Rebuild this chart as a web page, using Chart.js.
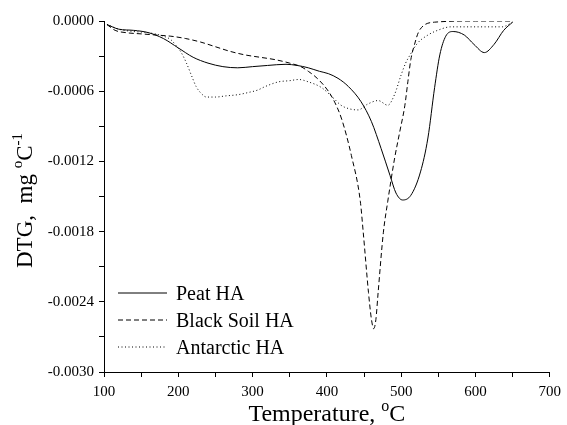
<!DOCTYPE html>
<html>
<head>
<meta charset="utf-8">
<script src="https://cdn.jsdelivr.net/npm/chart.js@4/dist/chart.umd.min.js"></script>
<style>
  html, body { margin: 0; padding: 0; background: #fff; }
  #wrap { width: 567px; height: 425px; }
</style>
</head>
<body>
<div id="wrap"><canvas id="dtgChart"></canvas></div>
<script>
/* ===================== DATA ===================== */
const peatT = [104, 120, 140, 160, 180, 200, 220, 240, 260, 280, 300, 320, 345, 360, 375, 390, 402, 415, 429, 446, 460, 473, 485, 493, 502, 513, 526, 536, 545, 552, 560, 570, 585, 598, 612, 625, 638, 650];
const peatV = [-0.00003, -0.00007, -0.00008, -0.00010, -0.00015, -0.00023, -0.00031, -0.00036, -0.00039, -0.00040, -0.00039, -0.00038, -0.00037, -0.00038, -0.00040, -0.00043, -0.00045, -0.00049, -0.00056, -0.00069, -0.00086, -0.00109, -0.00132, -0.00147, -0.00153, -0.00149, -0.00129, -0.00100, -0.00057, -0.00029, -0.00013, -0.00009, -0.00012, -0.00020, -0.00027, -0.00020, -0.00008, -0.00001];

const blackT = [104, 115, 130, 150, 170, 190, 210, 230, 250, 270, 290, 310, 330, 350, 365, 375, 387, 402, 411, 420, 433, 445, 449, 456, 460, 463, 466, 469, 476, 482, 491, 498, 505, 509, 513, 518, 523, 530, 545, 600, 650];
const blackV = [-0.00003, -0.00008, -0.00010, -0.00011, -0.00012, -0.00013, -0.00015, -0.00018, -0.00022, -0.00026, -0.00029, -0.00031, -0.00033, -0.00036, -0.00039, -0.00043, -0.00049, -0.00060, -0.00070, -0.00084, -0.00115, -0.00154, -0.00181, -0.00232, -0.00255, -0.00263, -0.00255, -0.00232, -0.00181, -0.00154, -0.00118, -0.00095, -0.00072, -0.00052, -0.00033, -0.00020, -0.00010, -0.00004, -0.00001, 0.00000, 0.00000];

const antT = [104, 120, 140, 160, 180, 190, 197, 204, 211, 218, 224, 231, 238, 250, 264, 280, 295, 307, 317, 335, 350, 362, 375, 393, 409, 419, 430, 442, 455, 469, 482, 491, 500, 506, 512, 522, 536, 549, 567, 590, 620, 636, 650];
const antV = [-0.00003, -0.00007, -0.00009, -0.00010, -0.00013, -0.00016, -0.00021, -0.00027, -0.00036, -0.00047, -0.00056, -0.00062, -0.00065, -0.00065, -0.00064, -0.00063, -0.00061, -0.00059, -0.00056, -0.00052, -0.00051, -0.00050, -0.00052, -0.00057, -0.00066, -0.00072, -0.00075, -0.00076, -0.00071, -0.00068, -0.00072, -0.00063, -0.00046, -0.00036, -0.00029, -0.00019, -0.00012, -0.00008, -0.00005, -0.00005, -0.00005, -0.00005, -0.00001];

const seriesLabels = ['Peat HA', 'Black Soil HA', 'Antarctic HA'];

const xTickValues = [100, 150, 200, 250, 300, 350, 400, 450, 500, 550, 600, 650, 700];
const xTickLabels = ['100', '', '200', '', '300', '', '400', '', '500', '', '600', '', '700'];
const yTickValues = [-0.0030, -0.0027, -0.0024, -0.0021, -0.0018, -0.0015, -0.0012, -0.0009, -0.0006, -0.0003, 0.0000];
const yTickLabels = ['-0.0030', '', '-0.0024', '', '-0.0018', '', '-0.0012', '', '-0.0006', '', '0.0000'];

const SERIF = '"Liberation Serif", "Times New Roman", serif';

function toPoints(xs, ys) {
  return xs.map((x, i) => ({ x: x, y: ys[i] }));
}

/* ===================== AXIS TITLES + LEGEND ===================== */
// draws a run of [text, isSuperscript] pieces starting at x, baseline 0
function drawRuns(ctx, runs, size) {
  let x = 0;
  runs.forEach(([txt, sup]) => {
    ctx.font = (sup ? Math.round(size * 0.65) : size) + 'px ' + SERIF;
    ctx.fillText(txt, x, sup ? -size * 0.42 : 0);
    x += ctx.measureText(txt).width;
  });
  return x;
}
function runsWidth(ctx, runs, size) {
  let w = 0;
  runs.forEach(([txt, sup]) => {
    ctx.font = (sup ? Math.round(size * 0.65) : size) + 'px ' + SERIF;
    w += ctx.measureText(txt).width;
  });
  return w;
}

const decorPlugin = {
  id: 'decor',
  afterDraw(chart) {
    const ctx = chart.ctx;
    const area = chart.chartArea;
    ctx.save();
    ctx.fillStyle = '#000';
    ctx.textBaseline = 'alphabetic';
    ctx.textAlign = 'left';

    // x title
    const xRuns = [['Temperature, ', false], ['o', true], ['C', false]];
    const xw = runsWidth(ctx, xRuns, 24);
    ctx.save();
    ctx.translate((area.left + area.right) / 2 - xw / 2, 421);
    drawRuns(ctx, xRuns, 24);
    ctx.restore();

    // y title
    const yRuns = [['DTG,  mg ', false], ['o', true], ['C', false], ['-1', true]];
    const yw = runsWidth(ctx, yRuns, 23);
    ctx.save();
    ctx.translate(32, (area.top + area.bottom) / 2 + 4 + yw / 2);
    ctx.rotate(-Math.PI / 2);
    drawRuns(ctx, yRuns, 23);
    ctx.restore();

    // legend
    ctx.font = '20px ' + SERIF;
    chart.data.datasets.forEach((ds, i) => {
      const y = area.bottom - 79 + i * 27;
      ctx.beginPath();
      ctx.setLineDash(ds.borderDash || []);
      ctx.lineWidth = 1;
      ctx.strokeStyle = '#000';
      ctx.moveTo(area.left + 14, y);
      ctx.lineTo(area.left + 63, y);
      ctx.stroke();
      ctx.setLineDash([]);
      ctx.fillText(ds.label, area.left + 72, y + 7);
    });
    ctx.restore();
  }
};

/* ===================== CHART ===================== */
document.addEventListener('DOMContentLoaded', () => {
  const ctx = document.getElementById('dtgChart');
  new Chart(ctx.getContext('2d'), {
    type: 'line',
    data: {
      datasets: [
        { label: seriesLabels[0], data: toPoints(peatT, peatV), borderDash: [] },
        { label: seriesLabels[1], data: toPoints(blackT, blackV), borderDash: [5, 3] },
        { label: seriesLabels[2], data: toPoints(antT, antV), borderDash: [1, 2.5] }
      ].map(d => Object.assign(d, {
        borderColor: '#000',
        borderWidth: 1,
        pointRadius: 0,
        fill: false,
        cubicInterpolationMode: 'monotone'
      }))
    },
    options: {
      responsive: true,
      maintainAspectRatio: false,
      animation: false,
      layout: { padding: { top: 21, right: 14, left: 0, bottom: 0 } },
      plugins: {
        legend: { display: false },
        tooltip: { enabled: false }
      },
      scales: {
        x: {
          type: 'linear',
          min: 100,
          max: 700,
          afterBuildTicks: s => { s.ticks = xTickValues.map(v => ({ value: v })); },
          afterFit: s => { s.height = 53; },
          border: { color: '#000', width: 1 },
          grid: { drawOnChartArea: false, drawTicks: true, tickLength: 5, tickColor: '#000' },
          ticks: {
            autoSkip: false,
            maxRotation: 0,
            padding: 6,
            color: '#000',
            font: { family: SERIF, size: 15 },
            callback: (v, i) => xTickLabels[i]
          }
        },
        y: {
          min: -0.003,
          max: 0,
          afterBuildTicks: s => { s.ticks = yTickValues.map(v => ({ value: v })); },
          afterFit: s => { s.width = 104; },
          border: { color: '#000', width: 1 },
          grid: { drawOnChartArea: false, drawTicks: true, tickLength: 5, tickColor: '#000' },
          ticks: {
            autoSkip: false,
            padding: 5,
            color: '#000',
            font: { family: SERIF, size: 15 },
            callback: (v, i) => yTickLabels[i]
          }
        }
      }
    },
    plugins: [decorPlugin]
  });
});
</script>
</body>
</html>
